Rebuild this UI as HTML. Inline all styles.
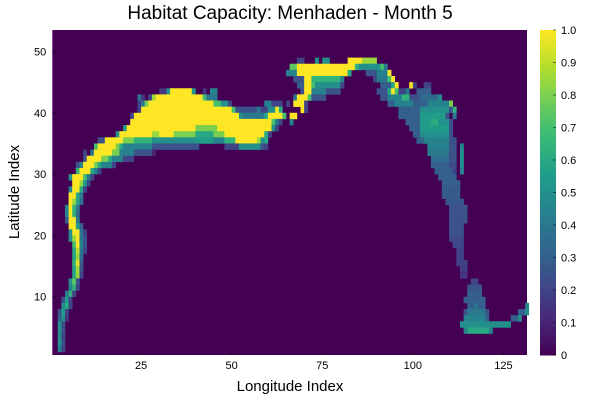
<!DOCTYPE html>
<html><head><meta charset="utf-8"><style>
body{margin:0;background:#fff;}
svg{display:block;font-family:"Liberation Sans",sans-serif;}
</style></head><body>
<svg id="chart" width="600" height="400">
<text x="290" y="19" text-anchor="middle" font-size="19" fill="#000">Habitat Capacity: Menhaden - Month 5</text>
<g id="cells"></g>
<g id="xaxis"></g>
<g id="yaxis"></g>
<g id="cbar"></g>
<text x="290" y="391" text-anchor="middle" font-size="15">Longitude Index</text>
<text transform="translate(19,192) rotate(-90)" text-anchor="middle" font-size="15">Latitude Index</text>
</svg>
<script>
const nCols = 131;
const nRows = 53;
const xTicks = [25, 50, 75, 100, 125];
const yTicks = [10, 20, 30, 40, 50];
const cbTicks = [0, 0.1, 0.2, 0.3, 0.4, 0.5, 0.6, 0.7, 0.8, 0.9, 1.0];
// [row, colStart, colEnd, value]
const segs = [
[48,68,69,.2],[48,73,73,.5],[48,75,76,.5],[48,82,85,1],[48,86,89,.85],
[47,66,67,.75],[47,68,83,1],[47,84,84,.65],[47,85,90,.5],[47,91,91,.7],[47,92,92,.4],
[46,65,67,.45],[46,68,81,1],[46,82,82,.6],[46,87,89,.25],[46,90,92,.45],[46,93,93,1],
[45,67,69,.25],[45,70,71,1],[45,72,79,.65],[45,80,80,.45],[45,89,89,.2],[45,90,92,.4],[45,93,93,.7],[45,94,94,1],
[44,68,69,.3],[44,70,71,1],[44,72,72,.7],[44,73,79,.5],[44,80,80,.2],[44,91,93,.3],[44,94,94,.6],[44,95,95,1],[44,99,99,1],[44,100,100,.2],[44,103,104,.2],
[43,30,31,.15],[43,32,32,.5],[43,33,38,1],[43,39,39,.5],[43,42,42,.15],[43,44,45,.45],
[43,69,69,.25],[43,70,71,1],[43,72,75,.45],[43,76,79,.25],[43,90,92,.25],[43,93,93,.6],[43,94,94,1],[43,95,95,.7],[43,96,97,.2],[43,98,98,.4],[43,101,104,.3],
[42,24,24,.4],[42,25,25,.15],[42,27,27,.2],[42,28,28,.85],[42,29,41,1],[42,42,42,.7],[42,43,45,.4],
[42,67,67,.4],[42,68,70,1],[42,71,71,.7],[42,72,75,.25],[42,91,92,.25],[42,93,96,.45],[42,97,98,.65],[42,99,101,.25],[42,102,106,.35],[42,107,107,.5],
[41,24,24,.2],[41,25,25,.4],[41,26,26,.8],[41,27,44,1],[41,45,46,.7],[41,47,48,.5],[41,49,49,.2],
[41,59,60,.45],[41,61,63,.2],[41,65,65,.2],[41,67,69,1],[41,70,70,.2],[41,93,94,.3],[41,95,99,.45],[41,100,103,.3],[41,104,109,.45],[41,110,110,.8],
[40,24,24,.2],[40,25,49,1],[40,50,50,.7],[40,51,56,.25],[40,57,57,.4],[40,58,58,.2],[40,59,59,.2],[40,60,61,.5],[40,62,62,1],[40,63,63,.6],[40,69,69,1],[40,70,70,.2],
[40,96,101,.3],[40,102,109,.5],[40,110,110,.25],[40,111,111,.65],
[39,22,22,.2],[39,23,51,1],[39,52,52,.5],[39,53,58,.4],[39,59,59,.6],[39,60,63,1],[39,64,64,.7],[39,66,67,1],
[39,96,101,.3],[39,102,108,.55],[39,109,109,.25],[39,111,111,.4],
[38,22,60,1],[38,61,61,.7],[38,62,62,.4],[38,63,63,.2],[38,66,66,.45],[38,98,101,.3],[38,102,104,.55],[38,105,106,.62],[38,107,109,.5],[38,110,110,.25],
[37,20,20,.5],[37,21,39,1],[37,40,45,.8],[37,46,59,1],[37,60,60,1],[37,61,61,.5],[37,62,62,.2],[37,99,101,.3],[37,102,109,.55],[37,110,110,.25],
[36,18,18,.5],[36,19,27,1],[36,28,29,.85],[36,30,33,1],[36,34,39,.8],[36,40,44,.6],[36,45,47,.8],[36,48,58,1],[36,59,59,.6],[36,60,60,.2],[36,100,101,.3],[36,102,109,.5],[36,110,110,.25],
[35,13,14,.25],[35,15,19,1],[35,20,22,.8],[35,23,27,.65],[35,28,39,.5],[35,40,44,.55],[35,45,47,.45],[35,48,50,.65],[35,51,56,1],[35,57,57,.85],[35,58,58,.5],[35,59,59,.6],
[35,101,102,.3],[35,103,109,.45],[35,110,111,.25],
[34,12,12,.7],[34,13,17,1],[34,18,18,.8],[34,19,19,.6],[34,20,27,.45],[34,28,40,.25],[34,48,51,.2],[34,52,57,.5],[34,58,58,.25],[34,59,59,.2],
[34,104,109,.45],[34,110,111,.25],[34,113,113,.45],
[33,9,9,.2],[33,11,11,.4],[33,12,16,1],[33,17,18,.8],[33,19,22,.45],[33,23,27,.25],[33,28,28,.1],[33,104,109,.4],[33,110,111,.25],[33,113,113,.5],
[32,9,9,.25],[32,10,13,1],[32,14,15,.8],[32,16,16,.6],[32,17,19,.45],[32,20,22,.2],[32,105,109,.35],[32,110,111,.25],[32,113,113,.5],
[31,7,7,.25],[31,8,8,.45],[31,9,11,1],[31,12,12,.8],[31,13,13,.6],[31,14,16,.45],[31,17,17,.2],[31,105,109,.3],[31,110,111,.22],[31,113,113,.5],
[30,7,7,.65],[30,8,10,1],[30,11,11,.6],[30,12,12,.45],[30,13,13,.2],[30,106,110,.3],[30,111,111,.2],[30,113,113,.45],
[29,5,5,.5],[29,6,8,1],[29,9,9,.7],[29,10,10,.4],[29,11,11,.2],[29,107,111,.3],
[28,6,7,1],[28,8,8,.85],[28,9,9,.55],[28,10,10,.2],[28,108,112,.3],
[27,5,5,.45],[27,6,7,1],[27,8,8,.6],[27,9,9,.2],[27,108,112,.28],
[26,5,6,1],[26,7,7,.6],[26,8,8,.4],[26,108,112,.28],
[25,5,5,1],[25,6,6,.85],[25,7,7,.6],[25,8,8,.35],[25,109,113,.27],
[24,4,4,.45],[24,5,5,1],[24,6,6,.65],[24,7,7,.4],[24,110,114,.25],
[23,4,4,.45],[23,5,5,1],[23,6,6,.65],[23,7,7,.35],[23,110,114,.25],
[22,4,4,.3],[22,5,6,1],[22,7,7,.4],[22,110,114,.25],
[21,5,6,1],[21,7,7,.55],[21,8,8,.3],[21,110,113,.25],
[20,5,5,.5],[20,6,7,1],[20,8,8,.4],[20,9,9,.2],[20,110,113,.25],
[19,5,5,.5],[19,6,6,.85],[19,7,7,1],[19,8,8,.4],[19,9,9,.25],[19,110,113,.23],
[18,6,6,.7],[18,7,7,1],[18,8,8,.45],[18,9,9,.25],[18,111,113,.22],
[17,6,6,.6],[17,7,7,.9],[17,8,8,.4],[17,9,9,.2],[17,112,113,.2],
[16,6,6,.6],[16,7,7,.85],[16,8,8,.35],[16,112,113,.2],
[15,6,6,.65],[15,7,7,.95],[15,8,8,.3],[15,112,114,.2],
[14,6,6,.6],[14,7,7,.85],[14,8,8,.25],[14,113,114,.18],
[13,6,6,.6],[13,7,7,.85],[13,8,8,.2],[13,113,114,.15],
[12,5,5,.5],[12,6,6,.75],[12,7,7,.25],[12,116,117,.2],
[11,5,5,.45],[11,6,6,.65],[11,7,7,.2],[11,115,118,.25],
[10,4,4,.4],[10,5,5,.65],[10,6,6,.2],[10,115,118,.3],
[9,3,3,.25],[9,4,4,.55],[9,5,5,.2],[9,114,119,.3],
[8,3,3,.5],[8,4,4,.6],[8,5,5,.2],[8,115,116,.3],[8,117,117,.4],[8,118,119,.3],[8,131,131,.45],
[7,2,2,.25],[7,3,3,.55],[7,4,4,.2],[7,114,114,.25],[7,115,119,.4],[7,120,120,.25],[7,129,130,.3],[7,131,131,.5],
[6,2,2,.3],[6,3,3,.5],[6,4,4,.15],[6,114,119,.45],[6,120,120,.3],[6,127,128,.3],[6,129,129,.5],
[5,2,2,.5],[5,3,3,.25],[5,113,126,.5],
[4,2,2,.5],[4,3,3,.25],[4,114,114,.45],[4,115,120,.6],[4,121,121,.45],
[3,2,2,.5],[3,3,3,.2],
[2,2,2,.5],[2,3,3,.25],
[1,2,2,.45],[1,3,3,.2]
];
const vir=[[68,1,84],[72,40,120],[62,74,137],[49,104,142],[38,130,142],[31,158,137],[53,183,121],[109,205,89],[180,222,44],[253,231,37]];
function cmap(v){v=Math.max(0,Math.min(1,v));const t=v*9,i=Math.min(8,Math.floor(t)),f=t-i;const a=vir[i],b=vir[i+1];
return 'rgb('+a.map((c,k)=>Math.round(c+(b[k]-c)*f)).join(',')+')';}
const L=52.3,R=527,T=30,B=355;
const sx=c=>L+(c-0.5)*(R-L)/nCols;
const sy=r=>B-(r-0.5)*(B-T)/nRows;
const NS='http://www.w3.org/2000/svg';
function mk(tag,attrs,parent){const e=document.createElementNS(NS,tag);for(const k in attrs)e.setAttribute(k,attrs[k]);parent.appendChild(e);return e;}
const cells=document.getElementById('cells');
const bg=mk('rect',{x:L,y:T,width:R-L,height:B-T,fill:cmap(0)},cells);


segs.forEach(s=>{
  const x0=sx(s[1]),x1=sx(s[2]+1),y0=sy(s[0]+1),y1=sy(s[0]);
  const r=mk('rect',{x:x0.toFixed(2),y:y0.toFixed(2),width:(x1-x0+0.3).toFixed(2),height:(y1-y0+0.3).toFixed(2),fill:cmap(s[3])},cells);
  
  
});
const xa=document.getElementById('xaxis');
xTicks.forEach(t=>{const x=sx(t);
  const l=mk('line',{x1:x,x2:x,y1:B,y2:B-4,stroke:'#000','stroke-opacity':.5},xa);
  
  
  const tx=mk('text',{x:x,y:B+14,'text-anchor':'middle','font-size':11},xa);tx.textContent=t;
  
  
});
const ya=document.getElementById('yaxis');
yTicks.forEach(t=>{const y=sy(t);
  const l=mk('line',{x1:L,x2:L+4,y1:y,y2:y,stroke:'#000','stroke-opacity':.5},ya);
  
  
  const tx=mk('text',{x:L-6,y:y+4,'text-anchor':'end','font-size':11},ya);tx.textContent=t;
  
  
});
const cb=document.getElementById('cbar');
const cx=540,cw=16;
for(let i=0;i<100;i++){const v0=i/100;const y=B-(i+1)*(B-T)/100;
  const r=mk('rect',{x:cx,y:y.toFixed(2),width:cw,height:((B-T)/100+0.5).toFixed(2),fill:cmap(v0+0.005)},cb);
  
  
}
cbTicks.forEach(t=>{const y=B-t*(B-T);
  const l=mk('line',{x1:cx+cw-3,x2:cx+cw,y1:y,y2:y,stroke:'#000','stroke-opacity':.5},cb);
  
  
  const tx=mk('text',{x:cx+cw+5,y:y+4,'font-size':11},cb);tx.textContent=t===0?'0':t.toFixed(1);
  
  
});
</script>
</body></html>
